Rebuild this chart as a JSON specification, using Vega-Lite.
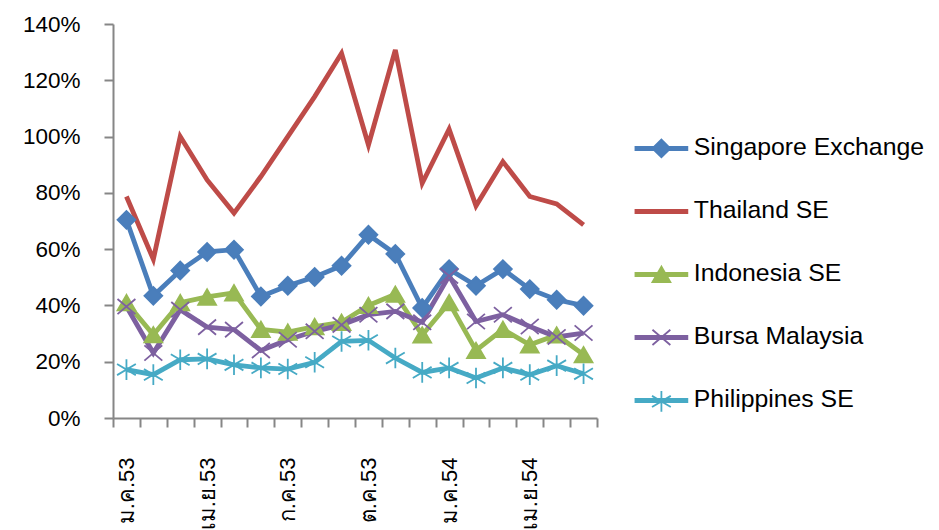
{
  "$schema": "https://vega.github.io/schema/vega-lite/v6.json",
  "width": 484,
  "height": 394,
  "autosize": "none",
  "padding": {"left": 113, "top": 24, "right": 342, "bottom": 112},
  "background": "white",
  "config": {"view": {"stroke": null}, "font": "Liberation Sans"},
  "data": {"values": [
    {"month": "ม.ค.53", "exchange": "Singapore Exchange", "value": 0.704},
    {"month": "ก.พ.53", "exchange": "Singapore Exchange", "value": 0.434},
    {"month": "มี.ค.53", "exchange": "Singapore Exchange", "value": 0.524},
    {"month": "เม.ย.53", "exchange": "Singapore Exchange", "value": 0.59},
    {"month": "พ.ค.53", "exchange": "Singapore Exchange", "value": 0.598},
    {"month": "มิ.ย.53", "exchange": "Singapore Exchange", "value": 0.432},
    {"month": "ก.ค.53", "exchange": "Singapore Exchange", "value": 0.47},
    {"month": "ส.ค.53", "exchange": "Singapore Exchange", "value": 0.501},
    {"month": "ก.ย.53", "exchange": "Singapore Exchange", "value": 0.541},
    {"month": "ต.ค.53", "exchange": "Singapore Exchange", "value": 0.651},
    {"month": "พ.ย.53", "exchange": "Singapore Exchange", "value": 0.583},
    {"month": "ธ.ค.53", "exchange": "Singapore Exchange", "value": 0.391},
    {"month": "ม.ค.54", "exchange": "Singapore Exchange", "value": 0.529},
    {"month": "ก.พ.54", "exchange": "Singapore Exchange", "value": 0.47},
    {"month": "มี.ค.54", "exchange": "Singapore Exchange", "value": 0.529},
    {"month": "เม.ย.54", "exchange": "Singapore Exchange", "value": 0.458},
    {"month": "พ.ค.54", "exchange": "Singapore Exchange", "value": 0.42},
    {"month": "มิ.ย.54", "exchange": "Singapore Exchange", "value": 0.399},
    {"month": "ม.ค.53", "exchange": "Thailand SE", "value": 0.787},
    {"month": "ก.พ.53", "exchange": "Thailand SE", "value": 0.564},
    {"month": "มี.ค.53", "exchange": "Thailand SE", "value": 1.0},
    {"month": "เม.ย.53", "exchange": "Thailand SE", "value": 0.846},
    {"month": "พ.ค.53", "exchange": "Thailand SE", "value": 0.728},
    {"month": "มิ.ย.53", "exchange": "Thailand SE", "value": 0.858},
    {"month": "ก.ค.53", "exchange": "Thailand SE", "value": 1.0},
    {"month": "ส.ค.53", "exchange": "Thailand SE", "value": 1.142},
    {"month": "ก.ย.53", "exchange": "Thailand SE", "value": 1.296},
    {"month": "ต.ค.53", "exchange": "Thailand SE", "value": 0.97},
    {"month": "พ.ย.53", "exchange": "Thailand SE", "value": 1.308},
    {"month": "ธ.ค.53", "exchange": "Thailand SE", "value": 0.834},
    {"month": "ม.ค.54", "exchange": "Thailand SE", "value": 1.026},
    {"month": "ก.พ.54", "exchange": "Thailand SE", "value": 0.754},
    {"month": "มี.ค.54", "exchange": "Thailand SE", "value": 0.911},
    {"month": "เม.ย.54", "exchange": "Thailand SE", "value": 0.787},
    {"month": "พ.ค.54", "exchange": "Thailand SE", "value": 0.761},
    {"month": "มิ.ย.54", "exchange": "Thailand SE", "value": 0.686},
    {"month": "ม.ค.53", "exchange": "Indonesia SE", "value": 0.41},
    {"month": "ก.พ.53", "exchange": "Indonesia SE", "value": 0.296},
    {"month": "มี.ค.53", "exchange": "Indonesia SE", "value": 0.41},
    {"month": "เม.ย.53", "exchange": "Indonesia SE", "value": 0.43},
    {"month": "พ.ค.53", "exchange": "Indonesia SE", "value": 0.445},
    {"month": "มิ.ย.53", "exchange": "Indonesia SE", "value": 0.315},
    {"month": "ก.ค.53", "exchange": "Indonesia SE", "value": 0.305},
    {"month": "ส.ค.53", "exchange": "Indonesia SE", "value": 0.325},
    {"month": "ก.ย.53", "exchange": "Indonesia SE", "value": 0.34},
    {"month": "ต.ค.53", "exchange": "Indonesia SE", "value": 0.40},
    {"month": "พ.ย.53", "exchange": "Indonesia SE", "value": 0.44},
    {"month": "ธ.ค.53", "exchange": "Indonesia SE", "value": 0.295},
    {"month": "ม.ค.54", "exchange": "Indonesia SE", "value": 0.41},
    {"month": "ก.พ.54", "exchange": "Indonesia SE", "value": 0.24},
    {"month": "มี.ค.54", "exchange": "Indonesia SE", "value": 0.315},
    {"month": "เม.ย.54", "exchange": "Indonesia SE", "value": 0.26},
    {"month": "พ.ค.54", "exchange": "Indonesia SE", "value": 0.295},
    {"month": "มิ.ย.54", "exchange": "Indonesia SE", "value": 0.225},
    {"month": "ม.ค.53", "exchange": "Bursa Malaysia", "value": 0.396},
    {"month": "ก.พ.53", "exchange": "Bursa Malaysia", "value": 0.231},
    {"month": "มี.ค.53", "exchange": "Bursa Malaysia", "value": 0.385},
    {"month": "เม.ย.53", "exchange": "Bursa Malaysia", "value": 0.323},
    {"month": "พ.ค.53", "exchange": "Bursa Malaysia", "value": 0.314},
    {"month": "มิ.ย.53", "exchange": "Bursa Malaysia", "value": 0.24},
    {"month": "ก.ค.53", "exchange": "Bursa Malaysia", "value": 0.278},
    {"month": "ส.ค.53", "exchange": "Bursa Malaysia", "value": 0.308},
    {"month": "ก.ย.53", "exchange": "Bursa Malaysia", "value": 0.331},
    {"month": "ต.ค.53", "exchange": "Bursa Malaysia", "value": 0.367},
    {"month": "พ.ย.53", "exchange": "Bursa Malaysia", "value": 0.379},
    {"month": "ธ.ค.53", "exchange": "Bursa Malaysia", "value": 0.34},
    {"month": "ม.ค.54", "exchange": "Bursa Malaysia", "value": 0.505},
    {"month": "ก.พ.54", "exchange": "Bursa Malaysia", "value": 0.343},
    {"month": "มี.ค.54", "exchange": "Bursa Malaysia", "value": 0.367},
    {"month": "เม.ย.54", "exchange": "Bursa Malaysia", "value": 0.325},
    {"month": "พ.ค.54", "exchange": "Bursa Malaysia", "value": 0.288},
    {"month": "มิ.ย.54", "exchange": "Bursa Malaysia", "value": 0.302},
    {"month": "ม.ค.53", "exchange": "Philippines SE", "value": 0.172},
    {"month": "ก.พ.53", "exchange": "Philippines SE", "value": 0.154},
    {"month": "มี.ค.53", "exchange": "Philippines SE", "value": 0.207},
    {"month": "เม.ย.53", "exchange": "Philippines SE", "value": 0.21},
    {"month": "พ.ค.53", "exchange": "Philippines SE", "value": 0.189},
    {"month": "มิ.ย.53", "exchange": "Philippines SE", "value": 0.178},
    {"month": "ก.ค.53", "exchange": "Philippines SE", "value": 0.174},
    {"month": "ส.ค.53", "exchange": "Philippines SE", "value": 0.198},
    {"month": "ก.ย.53", "exchange": "Philippines SE", "value": 0.272},
    {"month": "ต.ค.53", "exchange": "Philippines SE", "value": 0.276},
    {"month": "พ.ย.53", "exchange": "Philippines SE", "value": 0.213},
    {"month": "ธ.ค.53", "exchange": "Philippines SE", "value": 0.162},
    {"month": "ม.ค.54", "exchange": "Philippines SE", "value": 0.178},
    {"month": "ก.พ.54", "exchange": "Philippines SE", "value": 0.142},
    {"month": "มี.ค.54", "exchange": "Philippines SE", "value": 0.178},
    {"month": "เม.ย.54", "exchange": "Philippines SE", "value": 0.154},
    {"month": "พ.ค.54", "exchange": "Philippines SE", "value": 0.186},
    {"month": "มิ.ย.54", "exchange": "Philippines SE", "value": 0.157}
  ]},
  "encoding": {
    "x": {
      "field": "month", "type": "ordinal",
      "scale": {"type": "band", "paddingInner": 0, "paddingOuter": 0,
        "domain": ["ม.ค.53","ก.พ.53","มี.ค.53","เม.ย.53","พ.ค.53","มิ.ย.53","ก.ค.53","ส.ค.53","ก.ย.53","ต.ค.53","พ.ย.53","ธ.ค.53","ม.ค.54","ก.พ.54","มี.ค.54","เม.ย.54","พ.ค.54","มิ.ย.54"]},
      "axis": {
        "title": null, "tickBand": "extent", "labelAngle": 270, "labelOverlap": false,
        "labelExpr": "indexof(['ม.ค.53','เม.ย.53','ก.ค.53','ต.ค.53','ม.ค.54','เม.ย.54'], datum.value) >= 0 ? datum.value : ''",
        "labelFont": "Liberation Sans", "labelFontSize": 22, "labelColor": "#000000", "labelPadding": 30,
        "domainColor": "#868686", "domainWidth": 2, "tickColor": "#868686", "tickWidth": 2, "tickSize": 9, "grid": false
      }
    },
    "y": {
      "field": "value", "type": "quantitative",
      "scale": {"domain": [0, 1.4], "nice": false},
      "axis": {
        "title": null, "values": [0, 0.2, 0.4, 0.6, 0.8, 1.0, 1.2, 1.4], "format": ".0%",
        "labelFont": "Liberation Sans", "labelFontSize": 22.5, "labelColor": "#000000", "labelPadding": 24,
        "domainColor": "#868686", "domainWidth": 2, "tickColor": "#868686", "tickWidth": 2, "tickSize": 9, "grid": false
      }
    }
  },
  "layer": [
    {
      "mark": {"type": "line", "strokeWidth": 4.8, "strokeJoin": "miter"},
      "encoding": {
        "color": {
          "field": "exchange", "type": "nominal",
          "scale": {"domain": ["Singapore Exchange","Thailand SE","Indonesia SE","Bursa Malaysia","Philippines SE"],
                    "range": ["#4A7EBB","#BE4B48","#98B954","#7D60A0","#46AAC5"]},
          "legend": {
            "orient": "none", "legendX": 536, "legendY": 112, "title": null,
            "symbolType": "M-3,0H3", "symbolSize": 320, "symbolStrokeWidth": 5,
            "labelFont": "Liberation Sans", "labelFontSize": 24.8, "labelColor": "#000000", "labelLimit": 0,
            "labelOffset": 20, "rowPadding": 37
          }
        }
      }
    },
    {
      "mark": {"type": "point", "filled": true, "size": 320, "strokeWidth": 1.8, "opacity": 1},
      "encoding": {
        "fill": {
          "field": "exchange", "type": "nominal",
          "scale": {"domain": ["Singapore Exchange","Thailand SE","Indonesia SE","Bursa Malaysia","Philippines SE","-"],
                    "range": ["#4A7EBB","#BE4B48","#98B954","#7D60A0","#46AAC5","transparent"]},
          "legend": {
            "orient": "none", "legendX": 536, "legendY": 112, "title": null,
            "symbolSize": 320, "symbolStrokeWidth": 1.8,
            "labelFont": "Liberation Sans", "labelFontSize": 24.8, "labelOpacity": 0, "labelLimit": 0,
            "labelOffset": 20, "rowPadding": 37
          }
        },
        "stroke": {
          "field": "exchange", "type": "nominal",
          "scale": {"domain": ["Singapore Exchange","Thailand SE","Indonesia SE","Bursa Malaysia","Philippines SE","-"],
                    "range": ["#4A7EBB","#BE4B48","#98B954","#7D60A0","#46AAC5","transparent"]},
          "legend": {
            "orient": "none", "legendX": 536, "legendY": 112, "title": null,
            "symbolSize": 320, "symbolStrokeWidth": 1.8,
            "labelFont": "Liberation Sans", "labelFontSize": 24.8, "labelOpacity": 0, "labelLimit": 0,
            "labelOffset": 20, "rowPadding": 37
          }
        },
        "shape": {
          "field": "exchange", "type": "nominal",
          "scale": {"domain": ["Singapore Exchange","Thailand SE","Indonesia SE","Bursa Malaysia","Philippines SE","-"],
                    "range": ["diamond", "M0,0", "triangle-up", "M-1,-0.85L1,0.85M-1,0.85L1,-0.85", "M-1.05,-0.62L1.05,0.62M-1.05,0.62L1.05,-0.62M0,-1.15V1.15", "M0,0"]},
          "legend": {
            "orient": "none", "legendX": 536, "legendY": 112, "title": null,
            "symbolSize": 320, "symbolStrokeWidth": 1.8,
            "labelFont": "Liberation Sans", "labelFontSize": 24.8, "labelOpacity": 0, "labelLimit": 0,
            "labelOffset": 20, "rowPadding": 37
          }
        }
      }
    }
  ]
}
